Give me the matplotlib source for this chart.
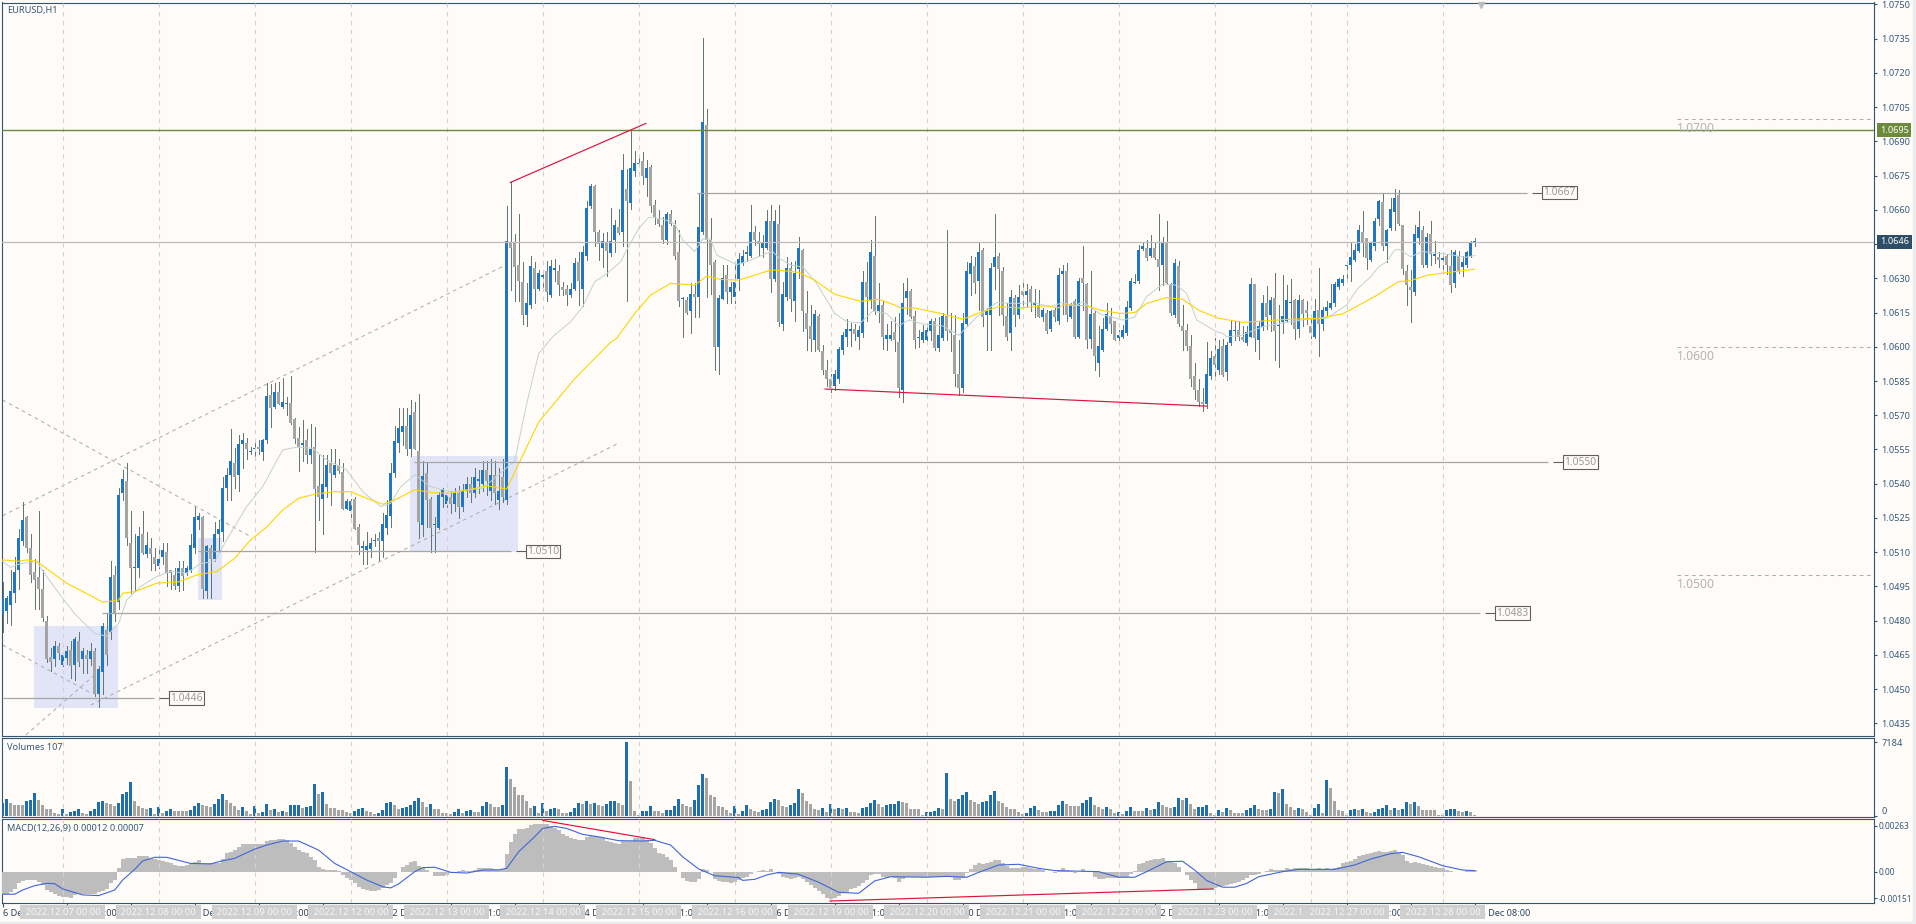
"""
EURUSD H1 chart (MT4 look) with Volumes and MACD panels.
Prices are kept in points above 1.0400, one row per 12 bars.
"""

import numpy as np
import matplotlib
matplotlib.use("Agg")
import matplotlib.pyplot as plt
from matplotlib.patches import Rectangle
from matplotlib.transforms import blended_transform_factory

W, H = 1916, 924
BG = "#fefbf9"
UP = "#2076c2"
DOWN = "#a4a4a4"
WICK = "#5f7878"
AXIS = "#33566f"
TXT = "#35597a"
GRID = "#d4d2d0"
RED = "#dc143c"

opens = [
    83,84,87,92,102,115,125.5,112,101.5,99,94,80,
    64,63,69,60.5,63.5,67,60.5,71,63,65,63,66.5,
    48,57.5,76,75,100,88,136,141,114,103,103,118,
    109,112,108,104,108,110,102,100,95,103,101,102,
    112,124,125.5,93,112,107,118,119,138,144,149,144,
    157.5,158,154,155,156,154,159,179,173.5,180,173.5,175,
    175.5,168.5,160,157,159,152.5,156,139,133.5,138.5,149,144,
    148,145,129,128,133.5,121,112,111,111.5,115,116,115,
    120.5,126,144.5,158,162.5,165.5,155,171.5,154.5,122,144.5,133.5,
    122,120.5,134,131,134,131,136,130,137,140,136,141,
    140,146,137,144,133,143,133,245.5,245.5,236,228.5,214,
    218.5,234.5,225.5,230.5,233,222.5,233.5,233,226,225.5,222.5,225.5,
    237,225.5,240,261.5,270.5,250.5,243.5,245.5,241,247,252.5,250.5,
    269,263,277,280,281.5,274,279,262,256,253.5,247,258,
    253.5,241.5,221,220.5,215.5,223,222,250.5,297,247,237,200,
    221,231.5,224,222,229.5,236.5,240.5,240,250.5,246.5,243.5,243.5,
    255,229.5,254,210,222,234.5,220,234,242.5,215,209,203,
    213.5,198,190,186,183,186,198.5,204.5,207,208,204.5,206,
    228.5,220,240,215.5,218.5,203.5,203.5,206.5,202,181,221.5,224.5,
    213.5,204,203,203,207,211.5,199.5,204,213.5,207.5,205,188,
    182,210,232,235.5,229,242.5,214,214,235,240,233,213.5,
    206,221.5,214,224.5,222.5,225.5,218.5,218.5,213,215,208,216,
    211.5,232,233,213,220,204.5,230,227.5,203.5,215,193,198.5,
    208,213.5,211.5,204,204.5,206,217,228,229,243,243.5,240,
    243.5,238.5,236,245.5,227.5,214,235.5,209,207.5,200.5,187,181,
    176,175,187,196,190,200.5,189,201.5,207,207.5,204.5,201.5,
    204.5,227.5,203,208.5,219,214,221.5,209,211,211.5,219,220.5,
    208,220.5,216,209,204.5,216,210,215.5,217,219,226,228,
    235.3,236,238,242,250.5,247.5,238,244,256,263.5,244,252,
    259,266.5,253.5,233,226,224,247.5,251,236,249.5,240,239.5,
    238,240,235.5,228,240,235,236,240,246,
]
closes = [
    90,90,93,101.5,116,124,112,100,98,94,81,63,
    62,69,66,65,66.5,60,72,62,66.5,63,66.5,48,
    59,77.5,65,99,83,135,142,116,103,103.5,117,109.5,
    113,109,105,107,111,101,101,95,103,99.5,103,113,
    125.5,126,94,112.5,107,118,120,138,144,150,143,157.5,
    159,155,154.3,155.5,155,159,178.5,173,180,175,176,175.5,
    166.5,159.5,156,158,152.5,155,137.5,134,140,148,144.5,148,
    145.5,129,132.5,132.5,120,113,112.3,112.5,114,115.5,115,122.5,
    126.5,144.5,158.5,164.5,165.5,155,170,155,123,143.5,133,120.5,
    122.3,135,137.5,135,131,136,130,137,140,136,143,142,
    146,141,144,136,137,134,246.5,243.5,235,229,214,219,
    235.5,225.5,232.5,231.5,224,235.5,234.5,227,225,222.5,225.5,236.5,
    229,241.5,261,270.5,250.5,245,246.5,242,246.5,253.5,250,277.5,
    264,278.5,280.5,280.5,275,278.5,261.5,257,254,247,258,254,
    240,220,221.5,215,223,222,252.5,298.5,247,236,200,221.5,
    230,224,226,228.5,238.5,240,241.5,250.5,247,245,245.5,255,
    229.5,255,211,223,234.5,221,232.5,243.5,215.5,208,203.5,214.5,
    198.5,190,186,182,188,199,205,208,208,205.5,207.5,228.5,
    222,241.5,215.5,218.5,204.5,205,205,203,182,219,224.5,213,
    203,204.3,206.5,207.5,211.5,199.5,205,213.5,207,206,188,182,
    210.5,233,236.5,228,241.5,213,216,234.5,239.5,234,214,204.5,
    222,214,222,222.5,224.5,219.5,219,213,216,207,215.5,213,
    231.5,233,214,218.5,204.5,229,228,203,214.5,196,200.5,208,
    214.5,210,203,205,207.5,217.5,229,228.5,242.5,244,239,243.5,
    239,235,245.5,228,215,236.5,210,207,200.5,186,181,176,
    175,188,195,192,199,187.5,201,207.5,207.3,204.5,203,206.5,
    227.5,204,209,219,213,220.5,207,209.3,213.5,220.5,219.3,208,
    220.5,214.5,215,206,215.5,210,216,217.5,219,227.5,229.5,229.5,
    235.5,239.5,242.5,251,246,239,245.5,255,264,244,251,260.5,
    265,254,234,227,225,249.5,252.5,236,248,240.5,240.3,238,
    239,236,227,241.5,233,237,241.5,245.5,246.3,
]
highs = [
    97,91,102,108,120,132,126,118,107,128,102,82,
    68,71,70,66,69,71,73,75,68,67,70,68,
    60,79,83,106,104,138,146,149,128,118,121,128,
    119,116,112,112,114,114,102,103,106,106,104,118,
    130,127,126,113,113,123,124,143,147,164,155.5,161.5,
    162,160,156,158,159,159.5,184,183.5,184,184.5,186.5,178,
    187,169,165,168,164,166,165,152.5,152.5,152.5,155,155,
    151,149,133.5,133.5,134,122.5,115,119,116,118,119,127,
    133,149,165.5,173,173,173,176.5,176,179.5,150,149,134,
    125.5,136.5,138,136.5,137,138,139,140,143,143,147,146,
    150,150,151,150,147,151,261.5,272,249.5,258,237,228,
    240,237,233.5,233.5,237.5,238,238.5,236,228.5,227,228,239,
    241.5,244,264,271.5,271,251,250,250.5,261,255.5,260.5,284.5,
    278,295,286,284,285.5,282,279.5,264.5,260,257,259,260,
    255.5,251,222,222,228,228,267.5,335.5,304,256.5,238,222.5,
    236,236,228.5,236.5,241,242.5,244,262,253,250.5,249,260,
    262,260,262,228.5,239.5,237,237.5,248,243,224.5,218.5,216,
    214.5,201,194,188,190,200,206.5,212,210.5,210,209,233,
    237,247,257.5,228,220,210,211.5,213,215,228,230,225.5,
    215.5,207.5,209.5,209,212,212.5,213,215,251,215,214,203,
    215,237,240,239.5,245.5,243.5,217,236.5,258,241,235,219,
    225,222.5,227,228.5,227.5,226.5,225.5,225,217,216,216,217.5,
    234.5,236,236.5,219,221,230,244,228,233,215.5,209,212.5,
    219,217,211.5,207.5,209.5,220,230,232,244.5,245.5,247,249,
    245.5,258,248,255,228,238.5,237.5,218.5,210,205,193,186,
    182,202,198,204,203,203.5,202,211.5,211.5,211.5,209,209,
    230,227.5,211.5,222.5,226.5,222,232.5,218.5,231.5,227,229.5,221,
    222.5,221,220,213,221,234.5,217.5,220,227.5,228.5,230,231.5,
    236.5,245.5,245,253.5,259.5,247.5,246,256.5,264.5,267.5,251.5,265,
    269,268.5,253.5,236,233.5,253.5,259.5,253,250,255,246.5,241.5,
    241.5,240.5,242.5,242.5,242,240,242,246.5,247.5,
]
lows = [
    75,79,78,88,94,113,110,97,85,85,80,62,
    58,60,63,60,61,55,54,60,57,57,60.5,47,
    42,48,60.5,72,80,85,133,113,92,93.5,99,109,
    108,102,102,103,105,95,94,94,93,93.5,100,101.5,
    109.5,120,90,90,90,106,110,115,133,133,138,137,
    147,151,153,150.5,153,150.5,158,165,173,175,173,170,
    166,158,145.5,150,149,149,110,124,118,134,130.5,143,
    144.5,129,129,125.5,120,109,105,105,108,112.5,106.5,108,
    118,121,143,154,157,152.5,152,155,116,117,121,110,
    110,120,130,130,127,128,125,128,134,132,134,136,
    137,135,133,131,129,132,131,225,220,220,210,209,
    217,219,225,225.5,220,222,229,222.5,222.5,218.5,222,225,
    218.5,218,238,261,244,238,235,231,240,241.5,249.5,244,
    220,260.5,275,279.5,271.5,266,259,254,253,245.5,245,253.5,
    238.5,218,204.5,214.5,206,213,213,249.5,222,223,190,188,
    221,219,219,219,225,236,237.5,239.5,244.5,240,239.5,243,
    224,229,209,207.5,220.5,215.5,211.5,230,207,198.5,198,198,
    198,188,183,180,181,184,197,200.5,200.5,203,199,204.5,
    211.5,217,214.5,211,199,198.5,203,198,178,176,214.5,212.5,
    199.5,200,202,203,203,198.5,198,203,203,198,183,179,
    180,209,222.5,223.5,216,209,198.5,198.5,225.5,214,209.5,203,
    198.5,209,212.5,218.5,217.5,215.5,213,213,211.5,206,207,211.5,
    210,214.5,211.5,212.5,204,204,216,199.5,199.5,190,187,198,
    207.5,206,203,203,204,205,216,228,228,242.5,238,239.5,
    238.5,225,227,227.5,214,213,209,198.5,198.5,183,177,174,
    172,173,186,186,188,187,185.5,201,203,203,202.5,201,
    204.5,198,194.5,207.5,208,207,194,191,206,211,210,203.5,
    204.5,209,210,204,204,196,207.5,214,216.5,218,225.5,227,
    229.5,229,237.5,241.5,240,234,237.5,242.5,253.5,242.5,237,251,
    251,253.5,232,218.5,211,222.5,245,235,235,236,236.5,235,
    233.5,232,224,226,232.5,231,235,239.5,244,
]

# tick volume in hundreds
volumes = [
    13,17,13,11,11,11,15,16,22,16,11,7,7,3,2,7,2,4,5,7,3,2,5,7,
    14,15,13,12,10,13,21,23,33,15,10,8,7,8,2,9,3,5,7,5,5,5,5,6,
    10,13,11,10,9,12,17,21,16,13,10,6,9,5,2,10,3,4,12,6,7,4,5,4,
    11,11,11,8,9,10,31,21,23,12,8,8,6,6,4,3,5,7,8,5,4,2,3,6,
    13,14,11,7,8,9,11,15,18,14,9,12,7,7,3,3,2,4,7,3,5,6,4,4,
    10,14,12,9,9,
    11,48,36,28,20,20,15,8,10,3,13,5,7,8,7,3,3,4,8,13,12,15,12,13,11,10,12,15,15,13,11,
    71.84,34,5,1,5,5,10,5,5,3,6,6,10,17,12,10,9,16,30,41,37,20,19,10,9,6,3,10,2,5,11,7,
    5,4,6,7,14,17,16,10,9,11,13,26,22,15,12,7,6,8,4,12,7,8,7,8,4,4,3,8,9,13,16,12,9,11,
    12,12,15,14,13,7,7,7,1,4,4,5,8,7,42,17,15,17,20,23,16,14,12,14,15,20,24,15,
    13,9,7,7,4,2,3,8,10,6,4,4,5,5,11,15,12,10,10,10,13,16,19,11,9,7,9,7,3,4,2,5,9,5,5,5,
    8,6,7,14,11,9,8,9,18,16,18,12,7,9,9,11,3,1,6,4,8,6,3,3,3,6,8,11,7,6,6,7,23,22,26,12,
    9,6,8,7,4,1,8,12,3,35,27,15,6,5,1,6,7,6,7,4,3,4,7,8,11,6,8,6,7,14,12,14,10,6,6,6,6,
    1,0.5,6,7,7,5,4,5,4,1,
]

# MACD main line as histogram, in 1e-5
macd_hist = [
    -131,-127,-112,-97,-65,-49,-46,-46,-48,-55,-74,-103,-116,-127,-135,-143,-144,-146,-131,-127,-127,-127,-127,-124,
    -116,-108,-97,-65,-46,21,74,82,82,82,91,91,91,82,74,68,63,55,49,40,36,34,40,49,
    55,68,49,49,51,49,49,74,106,116,125,144,158,162,162,162,162,162,177,181,184,188,188,181,
    164,144,125,116,106,87,68,30,17,13,11,10,6,-17,-32,-46,-65,-84,-97,-105,-108,-108,-105,-89,
    -74,-65,-36,-2,30,40,55,63,36,25,11,-2,-23,-23,-23,-17,-8,2,8,11,8,6,11,21,
    25,25,21,15,10,
    17,101,169,217,247,247,253,268,272,274,274,272,264,253,239,220,207,196,188,181,182,201,207,207,
    201,192,177,169,163,162,177,179,177,192,196,196,182,163,135,110,101,86,68,30,2,-36,-51,-59,
    -55,-40,15,11,-2,-40,-51,-55,-59,-65,-59,-46,-36,-27,-13,-2,4,11,6,17,2,-13,-27,-32,
    -40,-32,-27,-40,-55,-74,-89,-108,-127,-146,-154,-150,-135,-122,-112,-97,-93,-78,-65,-46,-17,-13,-11,-27,
    -32,-27,-36,-59,-40,-27,-29,-29,-27,-27,-29,-27,-27,-27,-27,-27,-27,-46,-48,-36,-8,17,40,53,
    44,49,59,68,68,
    49,34,21,21,21,27,27,21,17,15,11,-2,-2,-6,11,21,11,6,-8,2,17,6,-2,-27,
    -40,-40,-32,-32,-36,-36,-30,-27,-13,6,44,51,63,68,74,74,82,63,55,49,30,2,-17,-46,
    -65,-97,-99,-99,-99,-93,-87,-78,-74,-68,-61,-55,-46,-36,-17,-17,-11,2,8,17,11,11,11,21,
    17,21,25,25,25,17,17,21,17,21,17,21,30,49,59,63,74,93,97,101,106,112,120,116,
    116,120,125,116,97,63,51,55,51,46,40,34,30,25,21,13,6,2,-2,2,8,8,11,
]

# signal line, read at its bends
signal_bars = [0,3,5,8,11,13,15,20,24,28,30,33,35,38,41,47,52,54,58,63,66,70,74,79,83,87,91,95,97,99,103,105,108,112,116,120,
               124,126,129,133,135,138,141,145,149,154,160,163,167,170,174,178,184,185,188,191,194,199,204,209,214,218,222,231,236,241,244,
               249,254,259,263,274,279,283,286,291,295,298,301,305,308,311,314,320,324,333,338,342,347,350,354,360,365,368]
signal_vals = [-127,-127,-103,-78,-65,-67,-97,-131,-135,-103,-46,15,63,84,84,49,46,59,78,131,154,177,177,125,49,2,-46,-84,-91,-68,2,25,27,-2,-6,11,
               12,21,116,202,249,261,249,215,201,179,177,181,154,87,17,-21,-32,-48,-42,-17,-2,-13,-59,-116,-122,-51,-27,-30,-25,-30,-2,
               40,44,21,8,2,-30,-30,2,59,61,11,-49,-87,-87,-65,-27,2,15,15,40,74,105,112,87,36,11,8]

# moving averages, points above 1.0400, read at their bends
ma_slow_bars = [0,4,6,8.5,12,16,23,25,29,30,33,38.5,44,48.5,53.5,58,62,66,70,74,78,83,87,91,95,98,103,108,112,121,126,134,143,152,153.5,
                158,162,167,173,176,179.5,184,188,192,194,199,203,208,214.5,219,223,224.5,228,234.5,240,244.5,249,254.5,261,264,265,271,
                274.5,279.5,283,286,291,295,299,304,310,321,329,335,343,349,352,356,361,368]
ma_slow_vals = [106.6,106,106.6,106,101.5,96.4,90,88,89,92,92.7,96.4,97,100,101.5,107.3,115.4,121,128.5,133.6,135.4,136.5,136.5,133.6,131,132.9,137.3,136,135.8,139,137.7,167,186,202,203.7,
                214.6,222.7,227.8,227,231,229.5,229.2,231.4,233.6,233.6,232.6,229.2,223,219.9,220.8,218.3,217,217,214.6,212.1,215,217.6,217,218,217,218.3,218,
                216,214.6,215,219,221.6,220.8,216,212.5,210.7,212,212.5,214.4,222,228.6,229,231.3,232.5,234]
ma_fast_bars = [0,2,4.5,8.5,11,15,18,23,26,29,31,34.5,38.5,42,46,49.5,53,56,61,65,70,73.5,77.5,81,86,90,94.5,97,99.5,103,107,112,120,128,131,134,137.5,
                142,145,148,151,154.5,156,159,161.5,164.5,168,170,173,175,177,178.5,183.5,186,191,192.5,194,197,200,203.5,208,211,214.5,217.5,221,224,226.5,230,
                235,239,243.5,248.5,253,258,262,265,268,270,274.5,280,283,286,290,293.5,296,298.5,303.5,305,306,309.5,315,318.5,326,331,336,338.5,342,344,346,348,349,352,355,359,362.5,365.5,368]
ma_fast_vals = [106,103.3,105,105.9,99.3,89.8,83,74.4,73.2,78.8,89,95,99.3,101.5,100.8,105,105.9,115.4,130,138.7,154.8,156,155.5,150.4,146,136.5,130,131.4,138.7,143.9,138.7,136.5,138,150,175,197,204.4,
                211,217.5,228.5,232,237.3,242.4,251.9,256.7,256.3,254,246.8,241.7,247.2,247.2,240.2,236,237.3,241,241.7,239,235.8,235,227.8,214.6,211,210.5,215.6,214.6,209.2,211.7,210,
                209.2,205,213,219.4,219,219.3,217.5,219.4,218,219.7,214.3,211.7,213,222,227.5,227,223.4,211.7,206.6,205.9,204.4,204.9,208.8,210,212,212.5,218.3,225,230.7,235,237.3,242.4,242.7,239.5,241.7,241,240.2,239.2,240]

price_ticks = [1.0750, 1.0735, 1.0720, 1.0705, 1.0690, 1.0675, 1.0660, 1.0645, 1.0630, 1.0615, 1.0600, 1.0585,
               1.0570, 1.0555, 1.0540, 1.0525, 1.0510, 1.0495, 1.0480, 1.0465, 1.0450, 1.0435]

grid_bars = [15, 39, 63, 87, 111, 135, 159, 183, 207, 231, 255, 279, 303, 327, 336, 360]
grid_dates = ["2022.12.07 00:00", "2022.12.08 00:00", "2022.12.09 00:00", "2022.12.12 00:00", "2022.12.13 00:00",
              "2022.12.14 00:00", "2022.12.15 00:00", "2022.12.16 00:00", "2022.12.19 00:00", "2022.12.20 00:00",
              "2022.12.21 00:00", "2022.12.22 00:00", "2022.12.23 00:00", "2022.12.26 00:00", "2022.12.27 00:00",
              "2022.12.28 00:00"]
date_bars = list(range(0, 369, 16))
date_labels = ["6 Dec 2022", "7 Dec 01:00", "7 Dec 17:00", "8 Dec 09:00", "9 Dec 01:00", "9 Dec 17:00", "12 Dec 09:00",
               "13 Dec 01:00", "13 Dec 17:00", "14 Dec 09:00", "15 Dec 01:00", "15 Dec 17:00", "16 Dec 09:00", "19 Dec 01:00",
               "19 Dec 17:00", "20 Dec 09:00", "21 Dec 01:00", "21 Dec 17:00", "22 Dec 09:00", "23 Dec 01:00", "23 Dec 17:00",
               "27 Dec 00:00", "27 Dec 16:00", "28 Dec 08:00"]

# horizontal levels with a boxed price at the right end
level_prices = [1.06675, 1.05495, 1.05104, 1.04833, 1.0446]
level_names = ["1.0667", "1.0550", "1.0510", "1.0483", "1.0446"]
level_starts = [173.6, 102.8, 48.8, 24.8, 0]
level_ends = [381, 386.3, 127, 369.3, 37.8]

round_prices = [1.0700, 1.0600, 1.0500]
round_names = ["1.0700", "1.0600", "1.0500"]

# shaded zones: bar from, bar to, price low, price high
zone_x0 = [7.8, 48.8, 101.8]
zone_x1 = [28.8, 54.8, 128.8]
zone_lo = [1.04417, 1.0489, 1.0510]
zone_hi = [1.04776, 1.0516, 1.0552]

# dashed trend lines: (bar, points) pairs
channel_x0 = [0, 22, 5.8, 0, 0]
channel_y0 = [126, 43, 29.9, 176.7, 69.3]
channel_x1 = [126.3, 153.6, 23, 62, 22]
channel_y1 = [236.3, 157.4, 56.2, 116.8, 48.3]

n_bars = len(opens)
for name, arr in [("closes", closes), ("highs", highs), ("lows", lows), ("volumes", volumes), ("macd_hist", macd_hist)]:
    if len(arr) != n_bars:
        raise ValueError(f"{name} has {len(arr)} values, opens has {n_bars}")


def px_axes(fig, top, bottom):
    ax = fig.add_axes([2 / W, 1 - bottom / H, (1874 - 2) / W, (bottom - top) / H], facecolor=BG)
    ax.set_xlim(-0.17, 467.83)
    for side in ["top", "left", "right", "bottom"]:
        ax.spines[side].set_color(AXIS)
        ax.spines[side].set_linewidth(0.8)
    ax.yaxis.tick_right()
    ax.tick_params(axis="y", length=2.5, width=0.8, color=AXIS, labelcolor=TXT, pad=3)
    ax.set_xticks([])
    for b in grid_bars:
        ax.axvline(b, color=GRID, lw=0.8, ls=(0, (4, 4)), zorder=4)
    return ax


plt.rcParams["font.family"] = ["Noto Sans", "DejaVu Sans"]
plt.rcParams["font.size"] = 6.6
fig = plt.figure(figsize=(W / 100, H / 100), dpi=100, facecolor=BG)
fig.patches.append(Rectangle((0, 0), 1, 2 / H, transform=fig.transFigure, color="#ececec"))
fig.patches.append(Rectangle((1913 / W, 0), 3 / W, 1, transform=fig.transFigure, color="#ececec"))

# price panel
ax = px_axes(fig, 2.5, 735.5)
ax.set_ylim(1.0750 - 731.0 / 22819, 1.0750 + 2.0 / 22819)
ax.set_yticks(price_ticks)
ax.set_yticklabels([f"{p:.4f}" for p in price_ticks])

idx = np.arange(n_bars)
o = 1.04 + np.array(opens, dtype=float) / 1e4
c = 1.04 + np.array(closes, dtype=float) / 1e4
hi = 1.04 + np.array(highs, dtype=float) / 1e4
lo = 1.04 + np.array(lows, dtype=float) / 1e4
hi = np.maximum(hi, np.maximum(o, c))
lo = np.minimum(lo, np.minimum(o, c))

for x0, x1, y0, y1 in zip(zone_x0, zone_x1, zone_lo, zone_hi):
    ax.add_patch(Rectangle((x0, y0), x1 - x0, y1 - y0, color="#e2e5f8", lw=0, zorder=1))

for x0, y0, x1, y1 in zip(channel_x0, channel_y0, channel_x1, channel_y1):
    ax.plot([x0, x1], [1.04 + y0 / 1e4, 1.04 + y1 / 1e4], color="#aeaeae", lw=0.75, ls=(0, (3.5, 3.5)), zorder=2)

ax.vlines(idx, lo, hi, color=WICK, lw=0.62, antialiased=False, zorder=3)
up = c >= o
body_lo = np.minimum(o, c)
body_h = np.maximum(np.abs(c - o), 0.00005)
ax.bar(idx[up], body_h[up], bottom=body_lo[up], width=0.74, color=UP, lw=0, antialiased=False, zorder=3.2)
ax.bar(idx[~up], body_h[~up], bottom=body_lo[~up], width=0.74, color=DOWN, lw=0, antialiased=False, zorder=3.2)

ax.plot(ma_fast_bars, 1.04 + np.array(ma_fast_vals) / 1e4, color="#c0d4d0", lw=0.7, zorder=5)
ax.plot(ma_slow_bars, 1.04 + np.array(ma_slow_vals) / 1e4, color="#ffd500", lw=0.8, zorder=5)

ax.axhline(1.0646, color="#bdbab8", lw=0.9, zorder=4.5)
ax.axhline(1.0695, color="#6d8a3c", lw=1.0, zorder=4.5)

for price, name, x0, x1 in zip(level_prices, level_names, level_starts, level_ends):
    ax.hlines(price, x0, x1, color="#a6a6a6", lw=0.9, zorder=5)
    ax.hlines(price, x1 + 1.25, x1 + 3.75, color="#606060", lw=0.8, zorder=5)
    ax.text(x1 + 8.1, price, name, ha="center", va="center", color="#9c9c9c", fontsize=7.4, zorder=6,
            bbox=dict(boxstyle="square,pad=0.12", fc=BG, ec="#606060", lw=0.8))

for price, name in zip(round_prices, round_names):
    ax.hlines(price, 418.6, 467.83, color="#aeaeae", lw=0.75, ls=(0, (3.5, 3.5)), zorder=5)
    ax.annotate(name, (418.6, price), xytext=(0, -9.5), textcoords="offset pixels", ha="left", va="center",
                color="#b4b4b4", fontsize=8.7, zorder=5)

ax.plot([126.9, 160.8], [1.0672, 1.06979], color=RED, lw=0.85, zorder=6)
ax.plot([205.6, 301], [1.05815, 1.0574], color=RED, lw=0.85, zorder=6)
ax.plot([369.5], [1.07497], marker="v", ms=5, color="#bcbcbc", clip_on=False, zorder=6)

ax.text(5 / 1872, 1 - 7.5 / 733, "EURUSD,H1", transform=ax.transAxes, color=TXT, va="center", fontsize=6.6)

for value, face, label in [(1.0695, "#6d8a3c", "1.0695"), (1.0646, "#2f4d66", "1.0646")]:
    ax.annotate(label, xy=(1.0, value), xycoords=("axes fraction", "data"), xytext=(6, 0),
                textcoords="offset pixels", ha="left", va="center", color="#ffffff", fontsize=6.6, zorder=7,
                bbox=dict(boxstyle="square,pad=0.28", fc=face, ec="none"), annotation_clip=False)

# volumes panel
vol = np.array(volumes, dtype=float) * 100
vol_up = np.zeros(n_bars, dtype=bool)
vol_up[0] = True
for k in range(1, n_bars):
    vol_up[k] = vol[k] > vol[k - 1] or (vol[k] == vol[k - 1] and vol_up[k - 1])
ax_vol = px_axes(fig, 737.7, 817.0)
ax_vol.set_ylim(-97.5, 7184 + 4.6 * 97.5)
ax_vol.bar(idx[vol_up], vol[vol_up], width=0.74, color="#1f6fae", lw=0, antialiased=False, zorder=3)
ax_vol.bar(idx[~vol_up], vol[~vol_up], width=0.74, color=DOWN, lw=0, antialiased=False, zorder=3)
ax_vol.set_yticks([7184, 0])
ax_vol.set_yticklabels(["7184", "0"])
ax_vol.get_yticklabels()[1].set_va("bottom")
ax_vol.text(5 / 1872, 1 - 9.5 / 79.3, "Volumes 107", transform=ax_vol.transAxes, color=TXT, va="center")

# MACD panel
ax_macd = px_axes(fig, 819.0, 902.5)
ax_macd.set_ylim(-174.4, 303)
ax_macd.bar(idx, macd_hist, width=1.0, color="#bdbdbd", lw=0, antialiased=False, zorder=3)
ax_macd.plot(signal_bars, signal_vals, color="#3f67d8", lw=0.8, zorder=5)
ax_macd.plot([135, 163], [295, 185], color=RED, lw=0.85, zorder=6)
ax_macd.plot([206.8, 302.7], [-166, -97], color=RED, lw=0.85, zorder=6)
ax_macd.set_yticks([263, 0, -151])
ax_macd.set_yticklabels(["0.00263", "0.00", "-0.00151"], fontsize=6.0)
ax_macd.tick_params(axis="y", pad=0.8)
ax_macd.text(5 / 1872, 1 - 10 / 83.5, "MACD(12,26,9) 0.00012 0.00007", transform=ax_macd.transAxes, color=TXT, va="center")

ax_macd.set_xticks(date_bars)
ax_macd.set_xticklabels(date_labels, ha="left", color="#2c4560")
ax_macd.tick_params(axis="x", length=2.6, width=0.8, color=AXIS, pad=2.2)

trans = blended_transform_factory(ax_macd.transData, ax_macd.transAxes)
for k, (bar, label) in enumerate(zip(grid_bars, grid_dates)):
    ax_macd.text(bar, -9.6 / 83.5, " " + label + " ", transform=trans, ha="center", va="center", color="#f6f6f6",
                 clip_on=False, zorder=8 + k, fontsize=6.8,
                 bbox=dict(boxstyle="square,pad=0.25", fc="#cfcfcf", ec="none"))

fig.savefig("out.png", dpi=100, facecolor=BG)
